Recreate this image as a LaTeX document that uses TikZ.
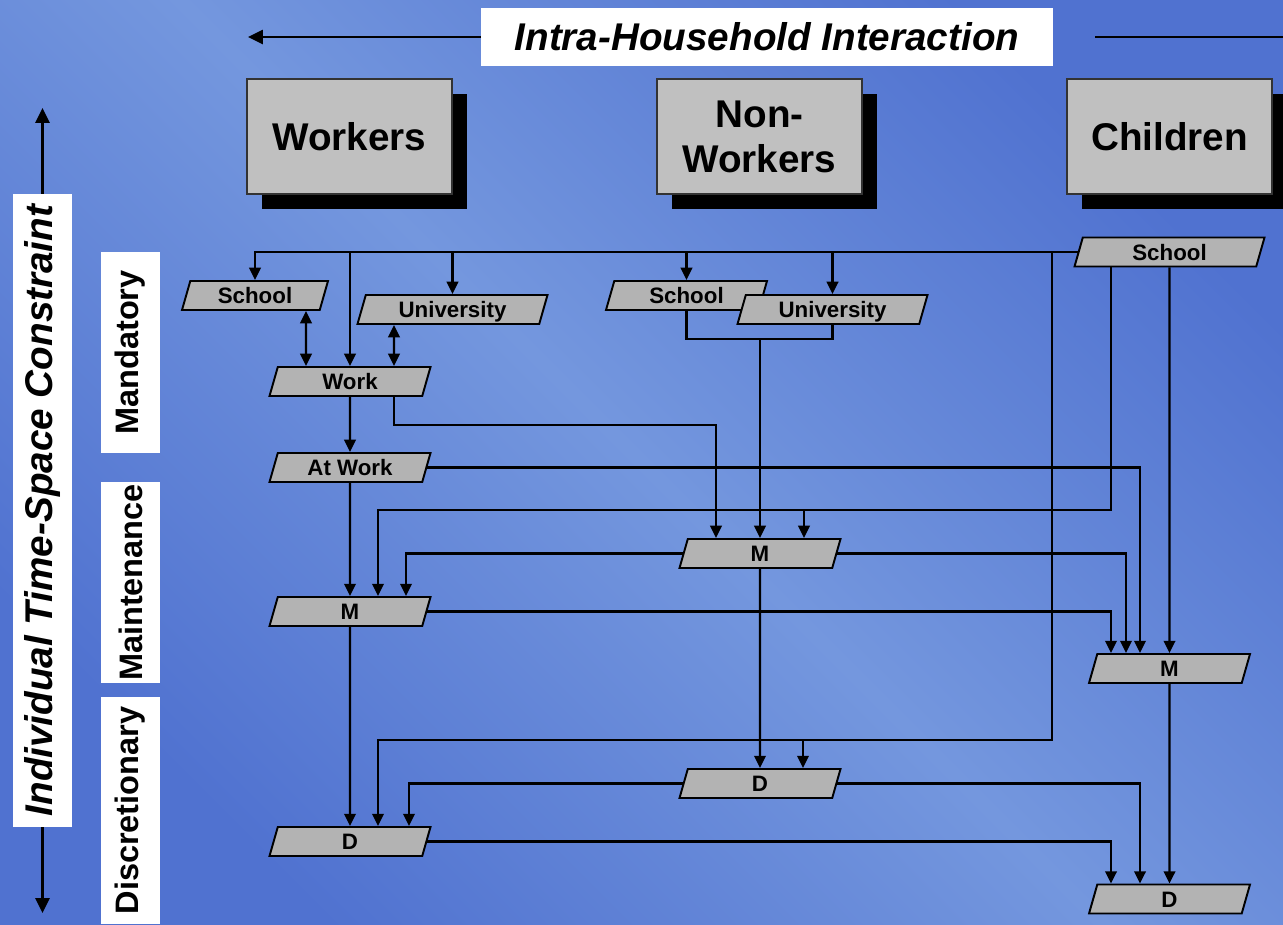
\documentclass[tikz,border=0pt]{standalone}
\usepackage{fontspec}
\setmainfont{Liberation Sans}
\usepackage{tikz}
\usetikzlibrary{shapes.geometric,arrows.meta,calc,shadows}

\definecolor{bgdark}{RGB}{80,114,208}
\definecolor{bglight}{RGB}{116,151,222}
\definecolor{boxgray}{RGB}{192,192,192}
\definecolor{actgray}{RGB}{179,179,179}

\begin{document}
\begin{tikzpicture}[x=0.02cm, y=-0.02cm,
  person/.style={rectangle, draw=black!80, line width=0.7pt, fill=boxgray, minimum width=4.1cm, minimum height=2.3cm, align=center, font=\fontsize{22}{25.5}\selectfont\bfseries, drop shadow={shadow xshift=0.3cm, shadow yshift=-0.3cm, fill=black, opacity=1}},
  act/.style={trapezium, trapezium left angle=62.65, trapezium right angle=117.35, trapezium stretches body, draw=black, line width=1.1pt, fill=actgray, inner sep=0pt, minimum height=0.58cm, minimum width=3.22cm, text height=9.1pt, text depth=0pt, font=\fontsize{12.7}{14}\selectfont\bfseries},
  wide/.style={minimum width=3.8cm},
  catbox/.style={rectangle, fill=white, rotate=90, inner sep=0pt, minimum width=4.02cm, minimum height=1.18cm, font=\fontsize{18.5}{20}\selectfont\bfseries},
  arr/.style={-{Triangle[length=7pt,width=6.6pt]}, line width=1.2pt},
  dblarr/.style={{Triangle[length=7pt,width=6.6pt]}-{Triangle[length=7pt,width=6.6pt]}, line width=1.2pt},
  bigarr/.style={-{Triangle[length=8.5pt,width=8pt]}, line width=1.3pt}]
\useasboundingbox (0,0) rectangle (1283,924);
\clip (0,0) rectangle (1283,924);
\shade[top color=bgdark, bottom color=bgdark, middle color=bglight, shading angle=-45] (0,0) rectangle (1283,924);

\node[rectangle, fill=white, inner sep=0pt, minimum width=11.44cm, minimum height=1.16cm, font=\fontsize{22}{24}\selectfont\bfseries\itshape] (title) at (767,37) {Intra-Household Interaction};
\coordinate (lefttip) at (248,37);
\coordinate (rightend) at (1283,37);
\draw[bigarr] (title) -- (lefttip);
\draw[line width=1.3pt, shorten <=23.8pt] (title) -- (rightend);

\node[catbox, minimum width=12.66cm, font=\fontsize{22}{24}\selectfont\bfseries\itshape] (constraint) at (42.5,510.5) {Individual Time-Space Constraint};
\coordinate (uptip) at (42.5,108);
\coordinate (downtip) at (42.5,913);
\draw[bigarr] (constraint) -- (uptip);
\draw[bigarr] (constraint) -- (downtip);

\node[catbox] (mand) at (130.5,352.5) {Mandatory};
\node[catbox] (maint) at (130.5,582.5) {Maintenance};
\node[catbox, minimum width=4.54cm] (disc) at (130.5,810.5) {Discretionary};

\node[person] (workers) at (349.5,136.5) {Workers};
\node[person] (nonworkers) at (759.5,136.5) {Non-\\Workers};
\node[person] (children) at (1169.5,136.5) {Children};

\node[act, minimum width=2.92cm] (wschool) at (255,295.5) {School};
\node[act, wide] (wuni) at (452.5,309.5) {University};
\node[act] (wwork) at (350,381.5) {Work};
\node[act] (wat) at (350,467.5) {At Work};
\node[act] (wM) at (350,611.5) {M};
\node[act] (wD) at (350,841.5) {D};
\node[act] (nwschool) at (686.5,295.5) {School};
\node[act, wide] (nwuni) at (832.5,309.5) {University};
\node[act] (nwM) at (760,553.5) {M};
\node[act] (nwD) at (760,783.5) {D};
\node[act, wide] (cschool) at (1169.5,252) {School};
\node[act] (cM) at (1169.5,668.5) {M};
\node[act] (cD) at (1169.5,899) {D};
\coordinate (nwjoin) at ($(nwschool.south)+(0,28)$);
\coordinate (dbus) at ($(cschool.west)+(-26,0)$);

\draw[arr] (cschool.west) -| (wschool.north);
\draw[arr] (wwork.north |- cschool.west) -- (wwork.north);
\draw[arr] (wuni.north |- cschool.west) -- (wuni.north);
\draw[arr] (nwschool.north |- cschool.west) -- (nwschool.north);
\draw[arr] (nwuni.north |- cschool.west) -- (nwuni.north);
\draw[arr] (dbus) |- ($(wD.north)+(28,-86)$) -- ($(wD.north)+(28,0)$);
\draw[arr] ($(nwD.north)+(43,-28)$) -- ($(nwD.north)+(43,0)$);
\draw[dblarr] ($(wschool.south)+(51,0)$) -- ($(wwork.north)+(-44,0)$);
\draw[dblarr] ($(wuni.south)+(-58.5,0)$) -- ($(wwork.north)+(44,0)$);
\draw[arr] (wwork.south) -- (wat.north);
\draw[arr] ($(wwork.south)+(44,0)$) -- ++(0,28) -| ($(nwM.north)+(-44,0)$);
\draw[line width=1.2pt] (nwschool.south) -- (nwjoin) -| (nwuni.south);
\draw[arr] (nwM.north |- nwjoin) -- (nwM.north);
\draw[arr] ($(cschool.south)+(-58.5,0)$) |- ($(wM.north)+(28,-86)$) -- ($(wM.north)+(28,0)$);
\draw[arr] ($(nwM.north)+(44,-28)$) -- ($(nwM.north)+(44,0)$);
\draw[arr] (cschool.south) -- (cM.north);
\draw[arr] (wat.east) -| ($(cM.north)+(-29.5,0)$);
\draw[arr] (nwM.west) -| ($(wM.north)+(56,0)$);
\draw[arr] (nwM.east) -| ($(cM.north)+(-43.5,0)$);
\draw[arr] (wM.east) -| ($(cM.north)+(-58.5,0)$);
\draw[arr] (wat.south) -- (wM.north);
\draw[arr] (wM.south) -- (wD.north);
\draw[arr] (nwM.south) -- (nwD.north);
\draw[arr] (cM.south) -- (cD.north);
\draw[arr] (nwD.west) -| ($(wD.north)+(59,0)$);
\draw[arr] (nwD.east) -| ($(cD.north)+(-29.5,0)$);
\draw[arr] (wD.east) -| ($(cD.north)+(-58.5,0)$);
\end{tikzpicture}
\end{document}
